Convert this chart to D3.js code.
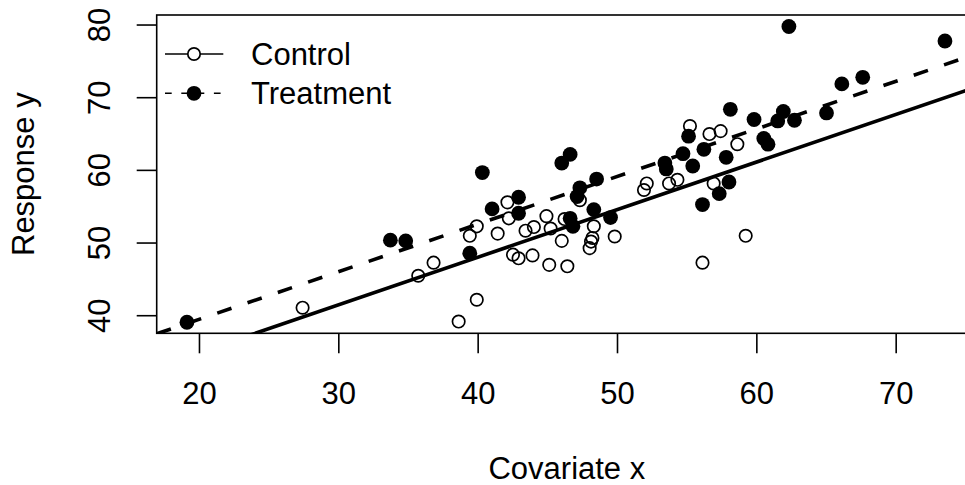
<!DOCTYPE html>
<meta charset="utf-8">
<title>Response vs covariate</title>
<style>

body { margin: 0; background: #fff; }

svg text {
  font-family: "Liberation Sans", Arial, sans-serif;
  font-size: 31px;
  fill: #000;
}

.frame, .tick-mark { fill: none; stroke: #000; stroke-width: 1.6; }

.fit { fill: none; stroke: #000; stroke-width: 3.6; }

</style>

<body>
<div id="chart"></div>

<script src="https://d3js.org/d3.v7.min.js"></script>
<script>

// control group (open circles)
var controlX = [27.4, 35.7, 36.8, 38.6, 39.9, 39.4, 39.9, 41.4, 42.1, 42.2,
                42.5, 42.9, 43.4, 43.9, 44.0, 44.9, 45.2, 45.1, 46.0, 46.4,
                46.2, 47.3, 48.3, 48.2, 48.1, 48.0, 49.8, 51.9, 52.1, 53.7,
                54.3, 55.2, 56.6, 57.4, 58.6, 56.9, 59.2, 56.1];
var controlY = [41.1, 45.5, 47.3, 39.2, 42.2, 51.0, 52.3, 51.3, 55.6, 53.4,
                48.4, 47.9, 51.7, 48.3, 52.2, 53.7, 52.0, 47.0, 50.3, 46.8,
                53.3, 55.9, 52.3, 50.7, 50.2, 49.3, 50.9, 57.3, 58.2, 58.2,
                58.7, 66.1, 65.0, 65.4, 63.6, 58.2, 51.0, 47.3];

// treatment group (filled circles)
var treatX = [19.1, 33.7, 34.8, 39.4, 40.3, 41.0, 42.9, 42.9, 46.0, 46.6,
              46.6, 46.8, 47.3, 47.1, 48.5, 48.3, 49.5, 53.4, 53.5, 54.7,
              55.4, 56.2, 57.8, 58.1, 55.1, 59.8, 60.5, 60.8, 61.9, 61.5,
              62.7, 62.3, 65.0, 66.1, 67.6, 73.5, 58.0, 57.3, 56.1];
var treatY = [39.1, 50.4, 50.3, 48.6, 59.7, 54.7, 56.3, 54.1, 61.0, 62.2,
              53.4, 52.3, 57.6, 56.4, 58.8, 54.6, 53.5, 61.0, 60.2, 62.3,
              60.6, 62.9, 61.8, 68.4, 64.7, 67.0, 64.4, 63.6, 68.1, 66.8,
              66.9, 79.8, 67.9, 71.9, 72.8, 77.8, 58.4, 56.8, 55.3];

var xTicks = [20, 30, 40, 50, 60, 70];
var yTicks = [40, 50, 60, 70, 80];
var xLimits = [16.93, 75.8];
var yLimits = [37.58, 81.38];

// fitted lines, common slope (control solid, treatment dashed)
var fitSlope = 0.655;
var fitIntercepts = [21.86, 26.42];
var groupNames = ["Control", "Treatment"];

var width = 965, height = 485;
var plot = {left: 156.7, top: 15, right: 977, bottom: 333.3};

var svg = d3.select("#chart").append("svg")
    .attr("width", width)
    .attr("height", height);

var x = d3.scaleLinear().domain(xLimits).range([plot.left, plot.right]);
var y = d3.scaleLinear().domain(yLimits).range([plot.bottom, plot.top]);

svg.append("clipPath").attr("id", "plot-clip")
  .append("rect")
    .attr("x", plot.left).attr("y", plot.top)
    .attr("width", plot.right - plot.left)
    .attr("height", plot.bottom - plot.top);

// fitted lines
var fits = svg.append("g").attr("clip-path", "url(#plot-clip)");
fitIntercepts.forEach(function(a, i) {
    fits.append("line")
        .attr("class", "fit")
        .attr("x1", x(xLimits[0])).attr("y1", y(a + fitSlope * xLimits[0]))
        .attr("x2", x(xLimits[1])).attr("y2", y(a + fitSlope * xLimits[1]))
        .attr("stroke-dasharray", i == 1 ? "15,17" : null);
});

// points
var controlPts = d3.zip(controlX, controlY);
var treatPts = d3.zip(treatX, treatY);

svg.append("g").selectAll("circle")
    .data(controlPts)
    .enter().append("circle")
    .attr("cx", function(d) { return x(d[0]); })
    .attr("cy", function(d) { return y(d[1]); })
    .attr("r", 6.2)
    .attr("fill", "none")
    .attr("stroke", "#000")
    .attr("stroke-width", 1.7);

svg.append("g").selectAll("circle")
    .data(treatPts)
    .enter().append("circle")
    .attr("cx", function(d) { return x(d[0]); })
    .attr("cy", function(d) { return y(d[1]); })
    .attr("r", 7.4)
    .attr("fill", "#000");

// frame
svg.append("rect")
    .attr("class", "frame")
    .attr("x", plot.left).attr("y", plot.top)
    .attr("width", plot.right - plot.left)
    .attr("height", plot.bottom - plot.top);

// x axis
var xAxis = svg.append("g");
xAxis.selectAll("line")
    .data(xTicks)
    .enter().append("line")
    .attr("class", "tick-mark")
    .attr("x1", function(d) { return x(d); }).attr("x2", function(d) { return x(d); })
    .attr("y1", plot.bottom).attr("y2", plot.bottom + 20);
xAxis.selectAll("text")
    .data(xTicks)
    .enter().append("text")
    .attr("x", function(d) { return x(d); })
    .attr("y", 404)
    .attr("text-anchor", "middle")
    .text(function(d) { return d; });

// y axis
var yAxis = svg.append("g");
yAxis.selectAll("line")
    .data(yTicks)
    .enter().append("line")
    .attr("class", "tick-mark")
    .attr("x1", plot.left - 20).attr("x2", plot.left)
    .attr("y1", function(d) { return y(d); }).attr("y2", function(d) { return y(d); });
yAxis.selectAll("text")
    .data(yTicks)
    .enter().append("text")
    .attr("transform", function(d) { return "translate(110," + y(d) + ") rotate(-90)"; })
    .attr("text-anchor", "middle")
    .text(function(d) { return d; });

// axis titles
svg.append("text")
    .attr("x", (plot.left + plot.right) / 2)
    .attr("y", 479)
    .attr("text-anchor", "middle")
    .text("Covariate x");

svg.append("text")
    .attr("transform", "translate(33.5," + (plot.top + plot.bottom) / 2 + ") rotate(-90)")
    .attr("text-anchor", "middle")
    .text("Response y");

// legend
var legend = svg.append("g");
groupNames.forEach(function(name, i) {
    var ly = 54 + i * 39.3;
    legend.append("line")
        .attr("x1", 165).attr("x2", 223.3)
        .attr("y1", ly).attr("y2", ly)
        .attr("stroke", "#000")
        .attr("stroke-width", 1.6)
        .attr("stroke-dasharray", i == 1 ? "6.7,9.6" : null);
    legend.append("circle")
        .attr("cx", 194).attr("cy", ly)
        .attr("r", i == 1 ? 7.4 : 6.2)
        .attr("fill", i == 1 ? "#000" : "#fff")
        .attr("stroke", i == 1 ? "none" : "#000")
        .attr("stroke-width", 1.7);
    legend.append("text")
        .attr("x", 251)
        .attr("y", ly + 11)
        .text(name);
});

</script>
</body>
